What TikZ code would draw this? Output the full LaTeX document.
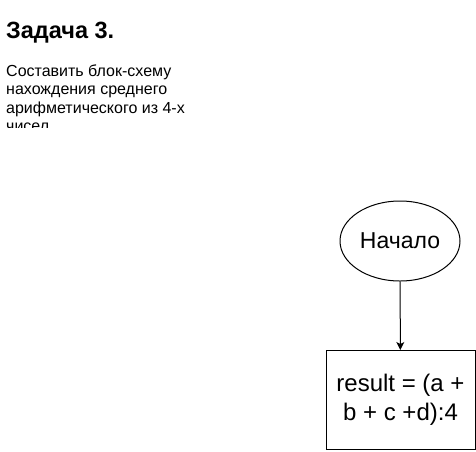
\documentclass[tikz,border=0pt]{standalone}
\usepackage{fontspec}
\setmainfont{Liberation Sans}
\usetikzlibrary{shapes.geometric,arrows.meta}
\begin{document}
\begin{tikzpicture}[x=1pt,y=-1pt,
  shapeline/.style={draw=black,line width=1pt},
  conn/.style={draw=black,line width=1pt,-{Stealth[length=8pt,width=8pt,inset=2pt]}}]
\useasboundingbox (0,0) rectangle (476,451);
\node[anchor=base west,inner sep=0pt,font=\fontsize{23.5}{28}\selectfont\bfseries] (title) at (6,38) {Задача 3.};
\begin{scope}
\clip (0,55) rectangle (220,127.5);
\node[anchor=north west,inner sep=0pt,align=left,font=\fontsize{16}{18.5}\selectfont] (desc) at (6,64.5)
 {Составить блок-схему\\нахождения среднего\\арифметического из 4-х\\чисел.};
\end{scope}
\node[shapeline,ellipse,minimum width=120pt,minimum height=80pt,inner sep=0pt,font=\fontsize{23}{28}\selectfont] (start) at (400,241) {Начало};
\node[shapeline,rectangle,minimum width=149pt,minimum height=99pt,inner sep=0pt,align=center,font=\fontsize{24}{29}\selectfont] (calc) at (400.5,400) {result = (a +\\b + c +d):4};
\draw[conn] (start) -- (calc);
\end{tikzpicture}
\end{document}
